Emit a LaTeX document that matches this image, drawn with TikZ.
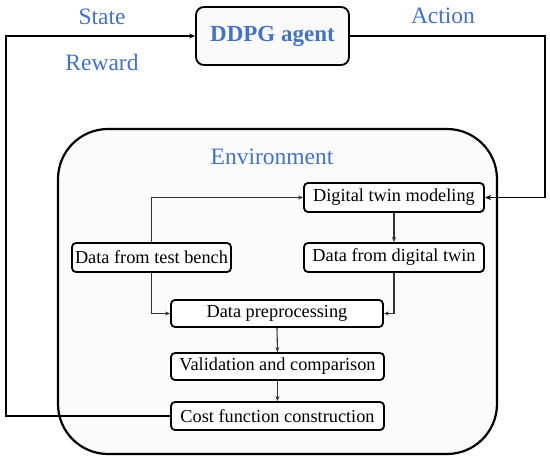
\documentclass[tikz,border=0pt]{standalone}
\usepackage{fontspec}
\setmainfont{Liberation Serif}
\usetikzlibrary{arrows.meta}
\definecolor{lblblue}{HTML}{4472C4}
\begin{document}
\begin{tikzpicture}[x=1pt,y=-1pt,
  box/.style={draw=black,line width=1.8pt,rounded corners=4pt,fill=white,inner sep=0pt,
    font=\fontsize{18.3}{20}\selectfont},
  lbl/.style={text=lblblue,font=\fontsize{23.5}{26}\selectfont,inner sep=0pt},
  outer/.style={draw=black,line width=1.8pt},
  inner/.style={draw=black!80,line width=1.1pt,-{Stealth[length=5pt,width=4pt]}},
  tip/.style={-{Stealth[length=6pt,width=5pt]}}
]
\useasboundingbox (0,0) rectangle (550,463);
% environment
\draw[line width=2.2pt,fill=black!1.5,rounded corners=50pt] (58,129) rectangle (497,454);
\node[lbl] (env) at (272,157) {Environment};
% agent
\node[box,fill=black!2,rounded corners=8pt,minimum width=153pt,minimum height=58pt,
  text=lblblue,font=\fontsize{23}{26}\selectfont\bfseries] (agent) at (272.5,36) {DDPG agent};
\node[lbl] (state) at (102,17) {State};
\node[lbl] (reward) at (102,62) {Reward};
\node[lbl] (action) at (443,16) {Action};
% boxes
\node[box,minimum width=180pt,minimum height=29pt] (dtm) at (394,197.5) {Digital twin modeling};
\node[box,minimum width=159pt,minimum height=29pt] (tb) at (151.5,257.5) {Data from test bench};
\node[box,minimum width=180pt,minimum height=29pt] (ddt) at (394,257.5) {Data from digital twin};
\node[box,minimum width=212pt,minimum height=27pt] (dp) at (277,313.5) {Data preprocessing};
\node[box,minimum width=213pt,minimum height=27pt] (vc) at (277.5,366.5) {Validation and comparison};
\node[box,minimum width=213pt,minimum height=28pt] (cfc) at (277.5,416) {Cost function construction};
% outer loop
\coordinate (bl) at (6,416);
\coordinate (tr) at (545,36);
\draw[outer,tip] (cfc.west) -- (bl) |- (agent.west);
\draw[outer,tip] (agent.east) -- (tr) |- (dtm.east);
% inner connectors
\draw[inner] (tb.north) |- (dtm.west);
\draw[inner] (dtm.south) -- (ddt.north);
\draw[inner] (tb.south) |- (dp.west);
\draw[inner] (ddt.south) |- (dp.east);
\draw[inner] (dp.south) -- (vc.north);
\draw[inner] (vc.south) -- (cfc.north);
\end{tikzpicture}
\end{document}
